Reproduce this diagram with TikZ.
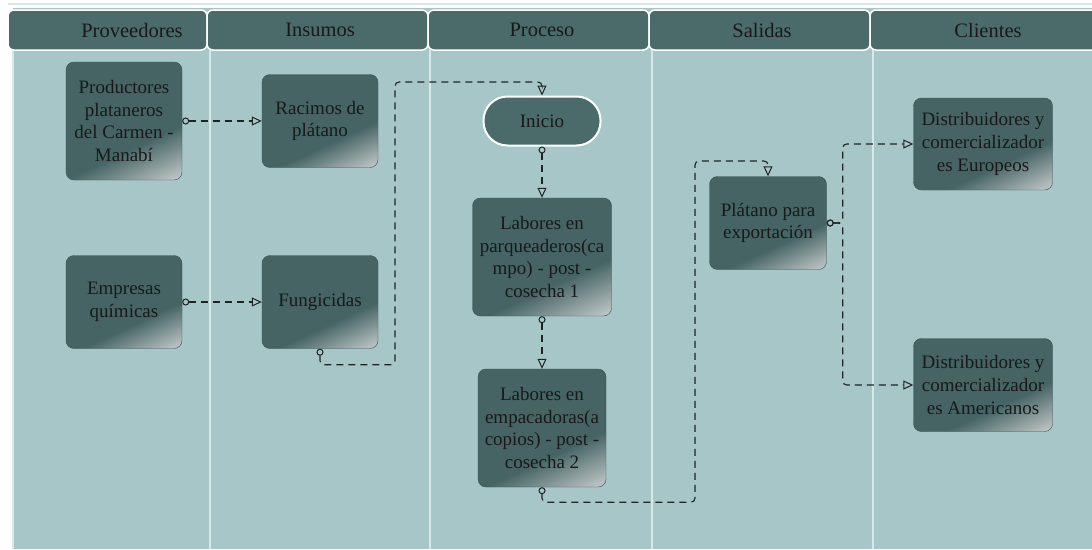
\documentclass[tikz,border=0pt]{standalone}
\usepackage{fontspec}
\setmainfont{Liberation Serif}
\usepackage{tikz}
\usetikzlibrary{arrows.meta,positioning,calc}

\definecolor{laneback}{HTML}{A7C6C7}
\definecolor{laneline}{HTML}{D8E8E8}
\definecolor{headfill}{HTML}{4B6B6B}
\definecolor{boxdark}{HTML}{466464}
\definecolor{boxlight}{HTML}{BFC6C6}
\definecolor{linecol}{HTML}{1E2424}
\pgfdeclareverticalshading{boxshade}{100bp}{color(0bp)=(boxlight); color(18bp)=(boxlight); color(38bp)=(boxdark); color(100bp)=(boxdark)}

\begin{document}
\begin{tikzpicture}[x=1pt, y=-1pt,
            every node/.style={font=\fontsize{19}{22.7}\selectfont, text=black!90, align=center, inner sep=2pt},
            box/.style={rectangle, rounded corners=8pt, draw=boxdark!80!black, line width=0.4pt,
                        shading=boxshade, shading angle=25},
            startbox/.style={rectangle, rounded corners=24pt, draw=white, line width=2pt, fill=headfill,
                        minimum width=117pt, minimum height=49pt},
            header/.style={rectangle, rounded corners=6pt, draw=white, line width=1.5pt, fill=headfill},
            headtext/.style={font=\fontsize{20.5}{24}\selectfont},
            flow/.style={draw=linecol, line width=1.1pt, dash pattern=on 7pt off 5pt, rounded corners=4pt,
                        {Circle[open,length=7pt,line width=1pt]}-{Triangle[open,length=10pt,width=9pt,line width=1pt]}}]
        \useasboundingbox (0,0) rectangle (1092,549);
        \fill[white] (0,0) rectangle (1092,549);
        \fill[laneback] (13,8) rectangle (1092,549);
        \draw[laneline, line width=1.5pt] (8,4) -- (1092,4);

        % lanes
        \foreach \xl in {13,210,430,652,873}
            \draw[laneline, line width=2pt] (\xl,50) -- (\xl,549);

        % headers
        \path[header] (8,10) rectangle (207,50);
        \path[header] (207,10) rectangle (428,50);
        \path[header] (428,10) rectangle (649,50);
        \path[header] (649,10) rectangle (870,50);
        \path[header] (870,10) rectangle (1100,50);
        \node[headtext] (hProv) at (132,30) {Proveedores};
        \node[headtext] (hIns) at (320,30) {Insumos};
        \node[headtext] (hProc) at (542,30) {Proceso};
        \node[headtext] (hSal) at (762,30) {Salidas};
        \node[headtext] (hCli) at (988,30) {Clientes};

        % boxes
        \node[box, minimum width=116pt, minimum height=118pt] (nodeProd) at (124,121)
            {Productores\\plataneros\\del Carmen -\\Manabí};
        \node[box, minimum width=116pt, minimum height=93pt] (nodeRac) at (320,121)
            {Racimos de\\plátano};
        \node[box, minimum width=116pt, minimum height=93pt] (nodeEmp) at (124,302)
            {Empresas\\químicas};
        \node[box, minimum width=116pt, minimum height=93pt] (nodeFung) at (320,302)
            {Fungicidas};
        \node[startbox] (nodeIni) at (542,121) {Inicio};
        \node[box, minimum width=139pt, minimum height=118pt] (nodeLabA) at (542,257)
            {Labores en\\parqueaderos(ca\\mpo) - post -\\cosecha 1};
        \node[box, minimum width=128pt, minimum height=118pt] (nodeLabB) at (542,428)
            {Labores en\\empacadoras(a\\copios) - post -\\cosecha 2};
        \node[box, minimum width=117pt, minimum height=93pt] (nodePlat) at (768,223)
            {Plátano para\\exportación};
        \node[box, minimum width=139pt, minimum height=92pt] (nodeEur) at (983,144)
            {Distribuidores y\\comercializador\\es Europeos};
        \node[box, minimum width=139pt, minimum height=93pt] (nodeAm) at (983,385)
            {Distribuidores y\\comercializador\\es Americanos};

        % connectors
        \draw[flow] (nodeProd.east) -- (nodeRac.west);
        \draw[flow] (nodeEmp.east) -- (nodeFung.west);
        \draw[flow] (nodeFung.south) -- ++(0,16) -| (395,82) -| (nodeIni.north);
        \draw[flow] (nodeIni.south) -- (nodeLabA.north);
        \draw[flow] (nodeLabA.south) -- (nodeLabB.north);
        \draw[flow] (nodeLabB.south) -- ++(0,15) -| (695,161) -| (nodePlat.north);
        \draw[flow] (nodePlat.east) -- ++(16,0) |- (nodeEur.west);
        \draw[flow] (nodePlat.east) -- ++(16,0) |- (nodeAm.west);
\end{tikzpicture}
\end{document}
